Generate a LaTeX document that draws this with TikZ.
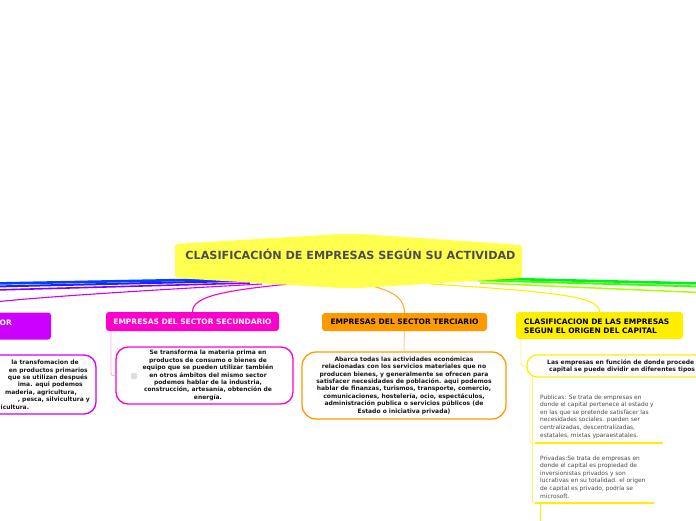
\documentclass[tikz,border=0pt]{standalone}
\usepackage{fontspec}
\setmainfont{DejaVu Sans}
\usetikzlibrary{backgrounds}
\definecolor{rootfill}{HTML}{FFFF4D}
\definecolor{roottext}{HTML}{4D4D4D}
\definecolor{cviolet}{HTML}{CC00FF}
\definecolor{cmagenta}{HTML}{FF00CC}
\definecolor{corange}{HTML}{FF9900}
\definecolor{cyellow}{HTML}{FFEE00}
\definecolor{cblue}{HTML}{0040FF}
\definecolor{cblueb}{HTML}{2020FF}
\definecolor{cpurple}{HTML}{8000FF}
\definecolor{cgreen}{HTML}{00F020}
\definecolor{cgreenb}{HTML}{40FF00}
\definecolor{clime}{HTML}{AAFF00}
\definecolor{cpink}{HTML}{FFAAEE}
\definecolor{clorange}{HTML}{FFCC88}
\definecolor{clyellow}{HTML}{FFF080}
\definecolor{descgray}{HTML}{4A4A4A}
\begin{document}
\begin{tikzpicture}[x=1pt,y=-1pt,
  topic/.style={rounded corners=3pt, inner sep=0pt, font=\fontsize{7.5}{9}\selectfont\bfseries},
  descbox/.style={draw, line width=1.3pt, rounded corners=12pt, fill=white, inner sep=0pt},
  desctext/.style={inner sep=0pt, align=center, font=\fontsize{6}{7.4}\selectfont\bfseries, text=black!90},
  frag/.style={inner sep=0pt, anchor=base east, font=\fontsize{6}{7.4}\selectfont\bfseries, text=black!90},
  note/.style={inner sep=0pt, align=left, anchor=north west, font=\fontsize{5.9}{7.6}\selectfont, text=descgray},
  conn/.style={line width=0.9pt},
]
\useasboundingbox (0,0) rectangle (696,520);

% central topic
\path[fill=rootfill, rounded corners=3pt] (175,244) -- (340,234) -- (360,234) -- (522,245) -- (522,278) -- (360,288) -- (340,288) -- (175,278) -- cycle;
\node[anchor=base, inner sep=0pt, font=\fontsize{11.2}{13}\selectfont\bfseries, text=roottext] (root) at (350.5,259.3) {CLASIFICACIÓN DE EMPRESAS SEGÚN SU ACTIVIDAD};

% main topics
\node[topic, fill=cviolet, minimum width=82pt, minimum height=27pt] (pri) at (10,326) {};
\node[inner sep=0pt, anchor=west, font=\fontsize{7.5}{9}\selectfont\bfseries, text=white] (prilabel) at (-0.5,322.5) {OR};
\node[topic, fill=cmagenta, text=white, minimum width=173pt, minimum height=19pt] (sec) at (192.5,321.5) {EMPRESAS DEL SECTOR SECUNDARIO};
\node[topic, fill=corange, text=black, minimum width=165pt, minimum height=18pt] (ter) at (404.5,322) {EMPRESAS DEL SECTOR TERCIARIO};
\node[topic, fill=cyellow, text=black, minimum width=167pt, minimum height=27pt] (cap) at (599.5,325.5) {};
\node[inner sep=0pt, anchor=north west, align=left, font=\fontsize{7.5}{9}\selectfont\bfseries, text=black] (caplabel) at (524,318.5) {CLASIFICACION DE LAS EMPRESAS\\SEGUN EL ORIGEN DEL CAPITAL};

% description boxes
\node[descbox, draw=cviolet, minimum width=136pt, minimum height=59pt] (pridesc) at (28,384.5) {};
\node[frag] (f1) at (79,364) {la transfomacion de};
\node[frag] (f2) at (88,372) {en productos primarios};
\node[frag] (f3) at (88,379) {que se utilizan después};
\node[frag] (f4) at (83,386) {ima. aqui podemos};
\node[frag] (f5) at (77,394) {maderia, agricultura,};
\node[frag] (f6) at (90,401) {, pesca, silvicultura y};
\node[frag, anchor=base west] (f7) at (0.5,409) {icultura.};

\node[descbox, draw=cmagenta, minimum width=177pt, minimum height=57pt] (secdesc) at (204.5,375.5) {};
\node[fill=black!13, rounded corners=1pt, minimum size=6pt, inner sep=0pt] (icon) at (134,376) {};
\node[desctext] (sectext) at (208,375.5) {Se transforma la materia prima en\\productos de consumo o bienes de\\equipo que se pueden utilizar también\\en otros ámbitos del mismo sector\\podemos hablar de la industria,\\construcción, artesanía, obtención de\\energía.};

\node[descbox, draw=corange, rounded corners=14pt, minimum width=204pt, minimum height=67pt] (terdesc) at (404,385.5) {};
\node[desctext] (tertext) at (404,385.5) {Abarca todas las actividades económicas\\relacionadas con los servicios materiales que no\\producen bienes, y generalmente se ofrecen para\\satisfacer necesidades de población. aqui podemos\\hablar de finanzas, turismos, transporte, comercio,\\comunicaciones, hostelería, ocio, espectáculos,\\administración publica o servicios públicos (de\\Estado o iniciativa privada)};

\node[descbox, draw=cyellow, rounded corners=10pt, minimum width=193pt, minimum height=22pt] (capdesc) at (623.5,366) {};
\node[desctext, align=left, anchor=north west] (captext) at (547,359) {Las empresas en función de donde procede\\\hspace*{2pt}capital se puede dividir en diferentes tipos};

\node[note] (pub) at (540,394.5) {Publicas: Se trata de empresas en\\donde el capital pertenece al estado y\\en las que se pretende satisfacer las\\necesidades sociales. pueden ser\\centralizadas, descentralizadas,\\estatales, mixtas yparaestatales.};
\node[note] (priv) at (540,455.5) {Privadas:Se trata de empresas en\\donde el capital es propiedad de\\inversionistas privados y son\\lucrativas en su totalidad. el origen\\de capital es privado, podría se\\microsoft.};
\coordinate (pubA) at (535,443);
\coordinate (pubB) at (663,443);
\coordinate (privA) at (535,503);
\coordinate (privB) at (654,503);
\draw[cyellow, line width=2.3pt] (pubA) -- (pubB);
\draw[cyellow, line width=2.3pt] (privA) -- (privB);
\coordinate (below) at (540.5,525);
\draw[cyellow, line width=1.3pt] (540.5,503) -- (below);

% connectors
\coordinate (lb1) at (-5,283.5);
\coordinate (lb2) at (-5,286.5);
\coordinate (lp) at (-5,290);
\coordinate (lv) at (-5,302);
\coordinate (rg1) at (700,283.5);
\coordinate (rg2) at (700,286.5);
\coordinate (rl) at (700,292.5);
\begin{scope}[on background layer]
\draw[cblue, line width=2.6pt] (240,279) -- (lb1);
\draw[cblueb, line width=2pt] (240,281) -- (lb2);
\draw[cpurple, line width=1.6pt] (250,283) -- (lp);
\draw[cviolet, line width=1.1pt] (262,284) .. controls (150,290) and (40,297) .. (lv);
\draw[cgreen, line width=2.6pt] (470,278) -- (rg1);
\draw[cgreenb, line width=2pt] (470,280) -- (rg2);
\draw[clime, line width=1.5pt] (480,283) -- (rl);
\draw[cyellow, line width=1.1pt] (430,284) .. controls (560,292) and (599.5,297) .. (cap.north);
\draw[cmagenta, line width=1.1pt] (300,283) .. controls (225,290) and (192.5,296) .. (sec.north);
\draw[corange!80, line width=1.1pt] (372,286) .. controls (396,292) and (404.5,300) .. (ter.north);
\end{scope}
\draw[cpink, conn] (111,331) -- (111,370) .. controls (111,375.5) .. (secdesc.west);
\draw[clorange, conn] (ter.south) -- (terdesc.north);
\draw[clyellow, conn] (521,339) -- (521,361) .. controls (521,366) .. (capdesc.west);
\draw[clyellow, conn] (530,377) -- (530,438) .. controls (530,443) .. (pubA);
\draw[clyellow, conn] (532.5,377) -- (532.5,498) .. controls (532.5,503) .. (privA);
\end{tikzpicture}
\end{document}
